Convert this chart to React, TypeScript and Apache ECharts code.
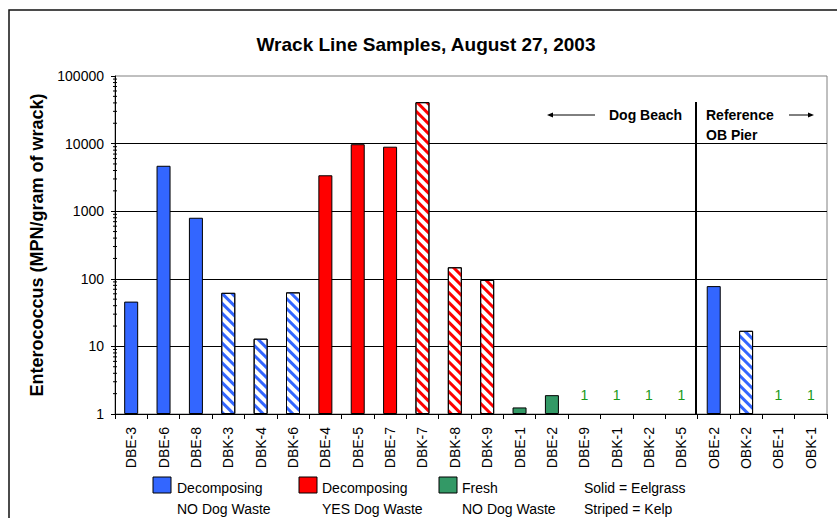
import React, { useEffect, useRef } from "react";
import * as echarts from "echarts";

const categories = ["DBE-3","DBE-6","DBE-8","DBK-3","DBK-4","DBK-6","DBE-4","DBE-5","DBE-7","DBK-7","DBK-8","DBK-9","DBE-1","DBE-2","DBE-9","DBK-1","DBK-2","DBK-5","OBE-2","OBK-2","OBE-1","OBK-1"];
const values = [46, 4700, 800, 62, 13, 63, 3400, 9800, 9000, 41000, 148, 96, 1.25, 1.9, 1, 1, 1, 1, 78, 17, 1, 1];
const groups = ["noDog","noDog","noDog","noDog","noDog","noDog","yesDog","yesDog","yesDog","yesDog","yesDog","yesDog","fresh","fresh","fresh","fresh","fresh","fresh","noDog","noDog","fresh","fresh"];
const kelp = [false,false,false,true,true,true,false,false,false,true,true,true,false,false,false,true,true,true,false,true,false,true];
const yTicks = [1, 10, 100, 1000, 10000, 100000];

const groupColors: Record<string, string> = { noDog: "#3366FF", yesDog: "#FF0000", fresh: "#339966" };
const FONT = "'Liberation Sans', Arial, sans-serif";

export default function App() {
  const ref = useRef<HTMLDivElement>(null);
  useEffect(() => {
    if (!ref.current) return;
    const chart = echarts.init(ref.current, null, { renderer: "svg" });

    const minorVals: number[] = [];
    for (let k = 0; k < yTicks.length - 1; k++) {
      for (let m = 2; m <= 9; m++) minorVals.push(m * yTicks[k]);
    }

    const barData = values.map((v, i) => {
      const c = groupColors[groups[i]];
      const bw = v === 1 ? 0 : 1;
      const itemStyle: any = kelp[i]
        ? {
            color: "#ffffff",
            borderColor: "#000",
            borderWidth: bw,
            decal: {
              symbol: "rect",
              symbolSize: 1,
              color: c,
              dashArrayX: [1, 0],
              dashArrayY: [3, 3.5],
              rotation: Math.PI / 4,
            },
          }
        : { color: c, borderColor: "#000", borderWidth: bw };
      return {
        value: v,
        itemStyle,
        label: {
          show: v === 1,
          position: "top",
          distance: 12,
          formatter: "1",
          color: "#1A9A1A",
          fontSize: 14,
          fontFamily: FONT,
        },
      };
    });

    const option: any = {
      animation: false,
      backgroundColor: "#fff",
      grid: {
        left: 115,
        top: 76,
        right: 10,
        bottom: 104,
        show: true,
        borderColor: "#808080",
        borderWidth: 1,
        containLabel: false,
      },
      xAxis: {
        type: "category",
        data: categories,
        axisLine: { lineStyle: { color: "#000", width: 1 } },
        axisTick: { show: true, interval: 0, length: 5, lineStyle: { color: "#000" } },
        axisLabel: {
          interval: 0,
          rotate: 90,
          margin: 13,
          color: "#000",
          fontSize: 14,
          fontFamily: FONT,
        },
      },
      yAxis: {
        type: "log",
        logBase: 10,
        min: 1,
        max: 100000,
        name: "Enterococcus (MPN/gram of wrack)",
        nameLocation: "middle",
        nameGap: 66,
        nameTextStyle: { fontSize: 18, fontWeight: "bold", color: "#000", fontFamily: FONT },
        axisLine: { show: true, lineStyle: { color: "#000", width: 1 } },
        axisTick: { show: true, length: 4, lineStyle: { color: "#000" } },
        axisLabel: {
          color: "#000",
          fontSize: 14,
          margin: 11,
          fontFamily: FONT,
          formatter: (v: number) => String(Math.round(v)),
        },
        splitLine: { show: true, showMaxLine: false, showMinLine: false, lineStyle: { color: "#000", width: 1 } },
      },
      series: [
        {
          type: "bar",
          data: barData,
          barWidth: 14,
          z: 3,
        },
        {
          type: "custom",
          silent: true,
          clip: false,
          z: 4,
          data: minorVals.map((v) => [0, v]),
          renderItem: (params: any, api: any) => {
            const y = api.coord([0, api.value(1)])[1];
            const x = params.coordSys.x;
            return {
              type: "line",
              shape: { x1: x - 2, y1: y, x2: x + 2, y2: y },
              style: { stroke: "#000", lineWidth: 1 },
            };
          },
        },
      ],
    };
    chart.setOption(option);

    const xa = chart.convertToPixel({ xAxisIndex: 0 }, "DBK-5") as number;
    const xb = chart.convertToPixel({ xAxisIndex: 0 }, "OBE-2") as number;
    const divX = Math.round((xa + xb) / 2) - 2;
    const baseY = chart.convertToPixel({ yAxisIndex: 0 }, 1) as number;

    const txt = (x: number, y: number, text: string, opts: any = {}) => ({
      type: "text",
      x,
      y,
      silent: true,
      style: {
        text,
        fill: "#000",
        font: `${opts.bold ? "bold " : ""}${opts.size || 14}px ${FONT}`,
        textAlign: opts.align || "left",
        textVerticalAlign: "middle",
      },
    });
    const legendRect = (x: number, color: string) => ({
      type: "rect",
      silent: true,
      shape: { x, y: 477, width: 18, height: 16 },
      style: { fill: color, stroke: "#000", lineWidth: 1 },
    });

    chart.setOption({
      graphic: [
        {
          type: "rect",
          silent: true,
          shape: { x: 9, y: 10, width: 840, height: 520 },
          style: { fill: "none", stroke: "#111", lineWidth: 1.5 },
        },
        txt(426, 44, "Wrack Line Samples, August 27, 2003", { bold: true, size: 19, align: "center" }),
        {
          type: "line",
          silent: true,
          shape: { x1: divX, y1: 102, x2: divX, y2: baseY },
          style: { stroke: "#000", lineWidth: 2 },
        },
        {
          type: "line",
          silent: true,
          shape: { x1: 550, y1: 115, x2: 595, y2: 115 },
          style: { stroke: "#000", lineWidth: 1 },
        },
        {
          type: "polygon",
          silent: true,
          shape: { points: [[547, 115], [553, 112.5], [553, 117.5]] },
          style: { fill: "#000" },
        },
        {
          type: "line",
          silent: true,
          shape: { x1: 789, y1: 115, x2: 811, y2: 115 },
          style: { stroke: "#000", lineWidth: 1 },
        },
        {
          type: "polygon",
          silent: true,
          shape: { points: [[814, 115], [808, 112.5], [808, 117.5]] },
          style: { fill: "#000" },
        },
        txt(609, 115, "Dog Beach", { bold: true }),
        txt(706, 115, "Reference", { bold: true }),
        txt(706, 135, "OB Pier", { bold: true }),
        legendRect(153, groupColors.noDog),
        legendRect(299, groupColors.yesDog),
        legendRect(439, groupColors.fresh),
        txt(177, 488, "Decomposing"),
        txt(177, 509, "NO Dog Waste"),
        txt(322, 488, "Decomposing"),
        txt(322, 509, "YES Dog Waste"),
        txt(462, 488, "Fresh"),
        txt(462, 509, "NO Dog Waste"),
        txt(584, 488, "Solid = Eelgrass"),
        txt(584, 509, "Striped = Kelp"),
      ],
    });

    return () => chart.dispose();
  }, []);
  return (
    <div
      ref={ref}
      style={{ position: "absolute", left: 0, top: 0, width: 837, height: 518, background: "#fff" }}
    />
  );
}
